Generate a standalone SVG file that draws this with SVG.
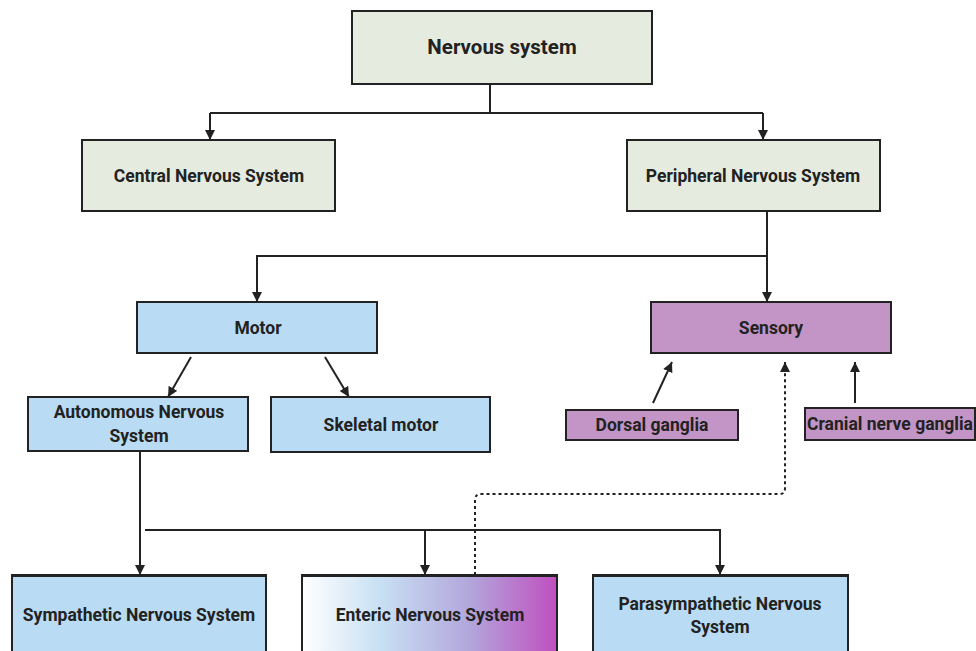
<svg xmlns="http://www.w3.org/2000/svg" width="976" height="651" viewBox="0 0 976 651">
<style>
.box{stroke:#222;stroke-width:2}
.g{fill:#e5ecdf}
.b{fill:#b9dcf4}
.p{fill:#c295c6}
text{font-family:Roboto,"Liberation Sans",sans-serif;font-weight:bold;fill:#222;text-anchor:middle;dominant-baseline:central;font-size:17.5px}
.t{font-size:20.5px}
.c{fill:none;stroke:#222;stroke-width:2}
.d{fill:none;stroke:#222;stroke-width:2;stroke-dasharray:3 3}
</style>
<defs>
<marker id="ah" viewBox="0 0 10 10" refX="10" refY="5" markerWidth="5" markerHeight="5" orient="auto" markerUnits="strokeWidth">
<path d="M0,0 L10,5 L0,10 z" fill="#222"/>
</marker>
<linearGradient id="ent" x1="0" y1="0" x2="1" y2="0">
<stop offset="0" stop-color="#ffffff"/>
<stop offset="0.3" stop-color="#c9e1f4"/>
<stop offset="0.65" stop-color="#b2a8dc"/>
<stop offset="1" stop-color="#c04fbf"/>
</linearGradient>
</defs>
<rect width="976" height="651" fill="#fff"/>
<g id="connectors">
<path class="c" d="M490,84 V113"/>
<path class="c" d="M210,113 H763"/>
<path class="c" d="M210,113 V140" marker-end="url(#ah)"/>
<path class="c" d="M763,113 V140" marker-end="url(#ah)"/>
<path class="c" d="M767,211 V302" marker-end="url(#ah)"/>
<path class="c" d="M767,256 H257 V302" marker-end="url(#ah)"/>
<path class="c" d="M191,357 L168,397" marker-end="url(#ah)"/>
<path class="c" d="M325,357 L349,397" marker-end="url(#ah)"/>
<path class="c" d="M653,403 L672,362" marker-end="url(#ah)"/>
<path class="c" d="M855,403 V362" marker-end="url(#ah)"/>
<path class="c" d="M140,451 V575" marker-end="url(#ah)"/>
<path class="c" d="M145,530 H720 V575" marker-end="url(#ah)"/>
<path class="c" d="M425,530 V575" marker-end="url(#ah)"/>
<path class="d" d="M475,575 V500 Q475,494 481,494 H780 Q785,494 785,488 V362" marker-end="url(#ah)"/>
</g>
<g id="nervous-system"><rect class="box g" x="352" y="11" width="300" height="73"/><text class="t" x="502" y="47">Nervous system</text></g>
<g id="cns"><rect class="box g" x="82" y="140" width="253" height="71"/><text x="209" y="176">Central Nervous System</text></g>
<g id="pns"><rect class="box g" x="627" y="140" width="253" height="71"/><text x="753" y="176">Peripheral Nervous System</text></g>
<g id="motor"><rect class="box b" x="137" y="302" width="240" height="51"/><text x="258" y="328">Motor</text></g>
<g id="sensory"><rect class="box p" x="651" y="302" width="240" height="51"/><text x="771" y="328">Sensory</text></g>
<g id="autonomous"><rect class="box b" x="28" y="397" width="220" height="54"/><text x="139" y="412">Autonomous Nervous</text><text x="139" y="436">System</text></g>
<g id="skeletal"><rect class="box b" x="271" y="397" width="219" height="55"/><text x="381" y="425">Skeletal motor</text></g>
<g id="dorsal"><rect class="box p" x="566" y="410" width="172" height="30"/><text x="652" y="425">Dorsal ganglia</text></g>
<g id="cranial"><rect class="box p" x="805" y="408" width="170" height="32"/><text x="890" y="424">Cranial nerve ganglia</text></g>
<g id="sympathetic"><rect class="box b" x="12" y="575" width="254" height="90"/><path d="M12,575.5 H266" stroke="#222" stroke-width="3"/><text x="139" y="615">Sympathetic Nervous System</text></g>
<g id="enteric"><rect class="box" fill="url(#ent)" x="302" y="575" width="255" height="90"/><path d="M302,575.5 H557" stroke="#222" stroke-width="3"/><text x="430" y="615">Enteric Nervous System</text></g>
<g id="parasympathetic"><rect class="box b" x="593" y="575" width="255" height="90"/><path d="M593,575.5 H848" stroke="#222" stroke-width="3"/><text x="720" y="604">Parasympathetic Nervous</text><text x="720" y="627">System</text></g>
</svg>
